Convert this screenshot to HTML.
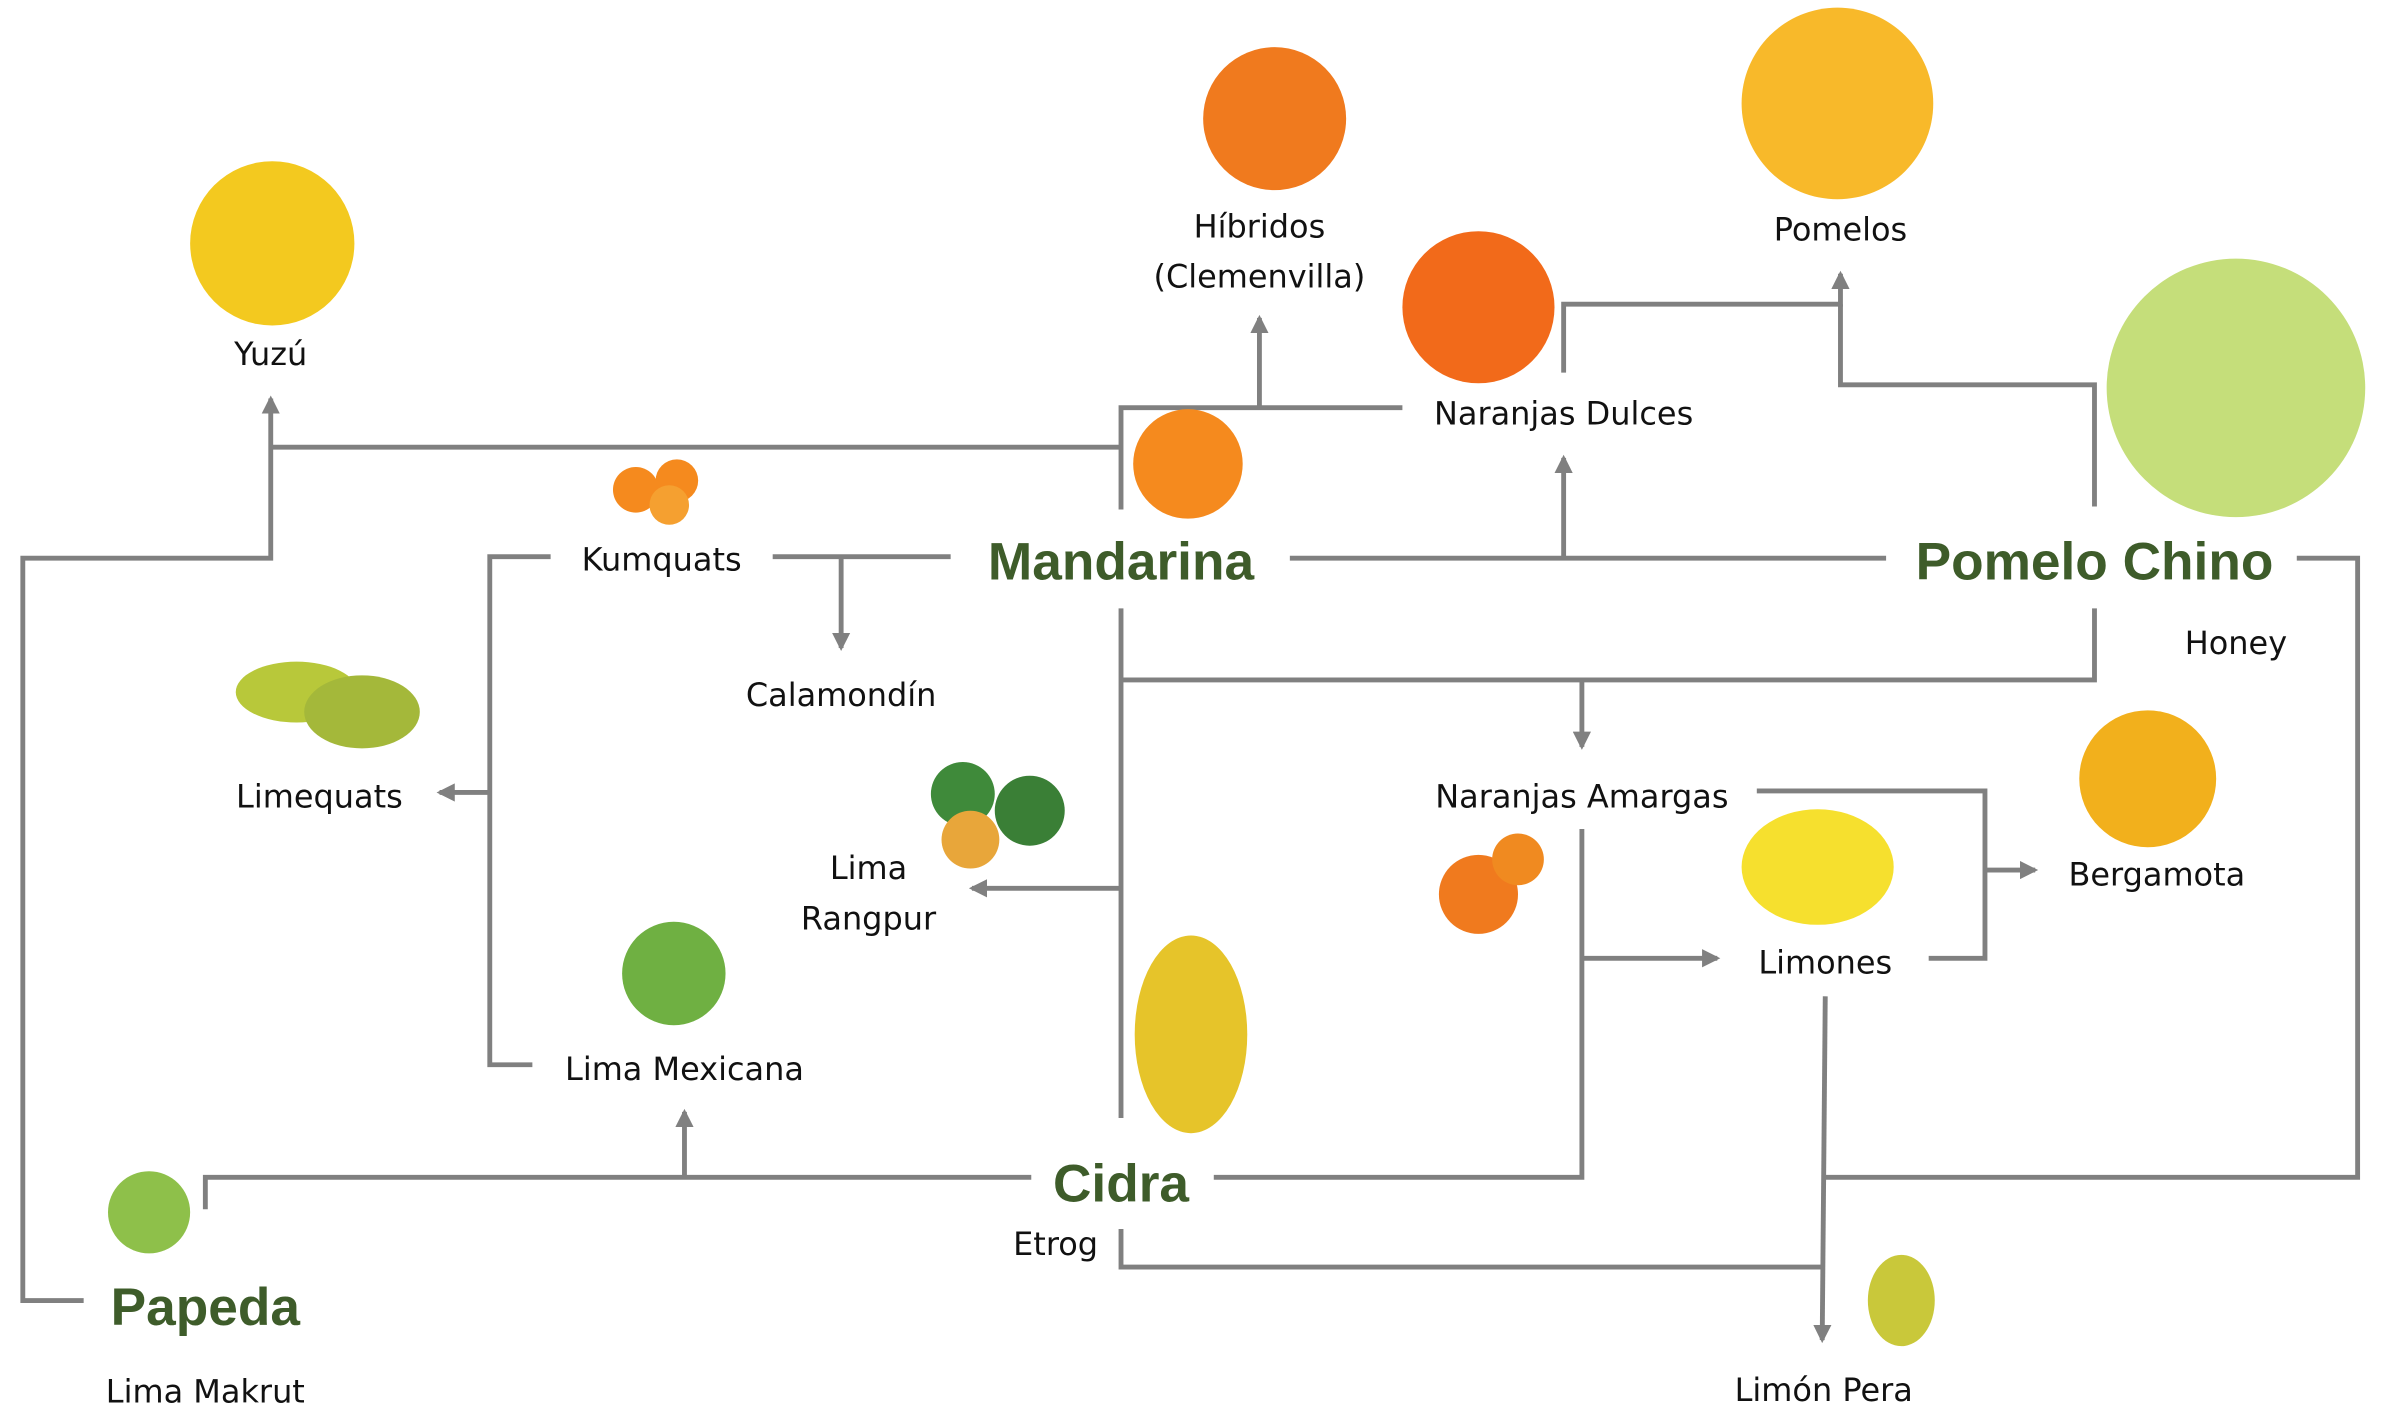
<!DOCTYPE html>
<html><head><meta charset="utf-8"><style>
html,body{margin:0;padding:0;background:#fff;width:2385px;height:1426px;overflow:hidden}
svg{display:block}
text{font-family:"DejaVu Sans","Liberation Sans",sans-serif;fill:#111;font-size:21px}
.b{font-family:"Liberation Sans",sans-serif;font-weight:bold;fill:#3e5c2a;font-size:35px}
</style></head><body>
<svg width="2385" height="1426" viewBox="0 0 1568 937.5" preserveAspectRatio="none">
<defs><marker id="a" markerWidth="14" markerHeight="12" refX="10" refY="6" orient="auto" markerUnits="userSpaceOnUse"><path d="M0,0 L12,6 L0,12 z" fill="#808080"/></marker></defs>
<g fill="none" stroke="#808080" stroke-width="3.2">
<polyline points="55,855 15,855 15,367 178,367 178,262" marker-end="url(#a)"/>
<polyline points="178,294 737,294"/>
<polyline points="737,335 737,268 922,268"/>
<polyline points="828,268 828,209" marker-end="url(#a)"/>
<polyline points="1028,245 1028,200 1210,200 1210,180" marker-end="url(#a)"/>
<polyline points="1210,200 1210,253 1377,253 1377,333"/>
<polyline points="848,367 1240,367"/>
<polyline points="1028,367 1028,301" marker-end="url(#a)"/>
<polyline points="508,366 625,366"/>
<polyline points="553,366 553,426" marker-end="url(#a)"/>
<polyline points="362,366 322,366 322,700 350,700"/>
<polyline points="322,521 289,521" marker-end="url(#a)"/>
<polyline points="737,400 737,735"/>
<polyline points="737,447 1377,447 1377,400"/>
<polyline points="1040,447 1040,491" marker-end="url(#a)"/>
<polyline points="737,584 639,584" marker-end="url(#a)"/>
<polyline points="678,774 135,774 135,795"/>
<polyline points="450,774 450,731" marker-end="url(#a)"/>
<polyline points="798,774 1040,774 1040,545"/>
<polyline points="1040,630 1129,630" marker-end="url(#a)"/>
<polyline points="1155,520 1305,520 1305,630 1268,630"/>
<polyline points="1305,572 1338,572" marker-end="url(#a)"/>
<polyline points="1200,655 1198,881" marker-end="url(#a)"/>
<polyline points="1510,367 1550,367 1550,774 1200,774"/>
<polyline points="737,808 737,833 1198,833"/>
</g>
<circle cx="179" cy="160" r="54" fill="#f3c91f"/>
<circle cx="838" cy="78" r="47" fill="#f07a1e"/>
<circle cx="1208" cy="68" r="63" fill="#f8b92a"/>
<circle cx="972" cy="202" r="50" fill="#f26a1a"/>
<ellipse cx="1470" cy="255" rx="85" ry="85" fill="#c5de7a"/>
<circle cx="781" cy="305" r="36" fill="#f58a1e"/>
<circle cx="418" cy="322" r="15" fill="#f58a1e"/><circle cx="445" cy="316" r="14" fill="#f58a1e"/><circle cx="440" cy="332" r="13" fill="#f5a030"/>
<ellipse cx="195" cy="455" rx="40" ry="20" fill="#b8c83a"/><ellipse cx="238" cy="468" rx="38" ry="24" fill="#a4b83a"/>
<circle cx="633" cy="522" r="21" fill="#3f8a3a"/><circle cx="677" cy="533" r="23" fill="#3a7f36"/><circle cx="638" cy="552" r="19" fill="#e8a63a"/>
<circle cx="443" cy="640" r="34" fill="#6fb042"/>
<ellipse cx="783" cy="680" rx="37" ry="65" fill="#e6c42a"/>
<circle cx="98" cy="797" r="27" fill="#8ec04a"/>
<circle cx="1412" cy="512" r="45" fill="#f2b01c"/>
<ellipse cx="1195" cy="570" rx="50" ry="38" fill="#f6e02e"/>
<circle cx="972" cy="588" r="26" fill="#f07a1e"/><circle cx="998" cy="565" r="17" fill="#f08a20"/>
<ellipse cx="1250" cy="855" rx="22" ry="30" fill="#c9c83a"/>
<text x="178" y="240" text-anchor="middle">Yuzú</text>
<text x="828" y="156" text-anchor="middle">Híbridos</text>
<text x="828" y="189" text-anchor="middle">(Clemenvilla)</text>
<text x="1210" y="158" text-anchor="middle">Pomelos</text>
<text x="1028" y="279" text-anchor="middle">Naranjas Dulces</text>
<text x="435" y="375" text-anchor="middle">Kumquats</text>
<text class="b" x="737" y="381" text-anchor="middle">Mandarina</text>
<text class="b" x="1377" y="381" text-anchor="middle">Pomelo Chino</text>
<text x="1470" y="430" text-anchor="middle">Honey</text>
<text x="553" y="464" text-anchor="middle">Calamondín</text>
<text x="210" y="531" text-anchor="middle">Limequats</text>
<text x="1040" y="531" text-anchor="middle">Naranjas Amargas</text>
<text x="1418" y="582" text-anchor="middle">Bergamota</text>
<text x="571" y="578" text-anchor="middle">Lima</text>
<text x="571" y="611" text-anchor="middle">Rangpur</text>
<text x="1200" y="640" text-anchor="middle">Limones</text>
<text x="450" y="710" text-anchor="middle">Lima Mexicana</text>
<text class="b" x="737" y="790" text-anchor="middle">Cidra</text>
<text x="694" y="825" text-anchor="middle">Etrog</text>
<text class="b" x="135" y="871" text-anchor="middle">Papeda</text>
<text x="135" y="922" text-anchor="middle">Lima Makrut</text>
<text x="1199" y="921" text-anchor="middle">Limón Pera</text>
</svg>
</body></html>
